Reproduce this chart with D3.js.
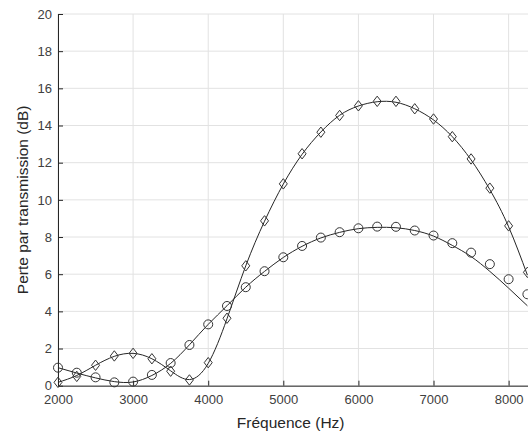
<!DOCTYPE html>
<html>
<head>
<meta charset="utf-8">
<script src="https://cdn.jsdelivr.net/npm/d3@7"></script>
<style>
  body { margin: 0; background: #fff; }
  svg { display: block; font-family: "Liberation Sans", Arial, sans-serif; }
</style>
</head>
<body>
<div class="chart"></div>
<script>
var svgWidth = 528;
var svgHeight = 433;

var margin = { top: 14, right: 0, bottom: 47, left: 58 };

// measured points (markers), every 250 Hz
var freqs = [2000, 2250, 2500, 2750, 3000, 3250, 3500, 3750, 4000, 4250, 4500, 4750, 5000,
  5250, 5500, 5750, 6000, 6250, 6500, 6750, 7000, 7250, 7500, 7750, 8000, 8250];
var diamondVals = [0.18, 0.5, 1.1, 1.6, 1.74, 1.45, 0.78, 0.31, 1.24, 3.63, 6.45, 8.87, 10.86,
  12.48, 13.64, 14.54, 15.06, 15.3, 15.3, 14.9, 14.35, 13.4, 12.2, 10.63, 8.6, 6.1];
var circleVals = [0.97, 0.7, 0.45, 0.18, 0.22, 0.58, 1.22, 2.19, 3.3, 4.29, 5.3, 6.16, 6.91,
  7.52, 7.97, 8.26, 8.47, 8.56, 8.55, 8.35, 8.08, 7.67, 7.16, 6.54, 5.73, 4.92];

// fitted curves (solid lines)
var diamondFit = [0.18, 0.55, 1.1, 1.58, 1.74, 1.45, 0.8, 0.33, 1.2, 3.6, 6.45, 8.85, 10.85,
  12.45, 13.65, 14.55, 15.05, 15.28, 15.25, 14.9, 14.3, 13.4, 12.15, 10.55, 8.55, 5.95];
var circleFit = [0.97, 0.68, 0.42, 0.22, 0.2, 0.55, 1.2, 2.2, 3.3, 4.3, 5.3, 6.15, 6.9,
  7.5, 7.95, 8.25, 8.45, 8.52, 8.5, 8.35, 8.05, 7.55, 6.95, 6.15, 5.25, 4.3];

var xTicks = [2000, 3000, 4000, 5000, 6000, 7000, 8000];
var yTicks = [0, 2, 4, 6, 8, 10, 12, 14, 16, 18, 20];

var width = 469.4;
var height = svgHeight - margin.top - margin.bottom - 0.3;

var svg = d3.select(".chart")
  .append("svg")
  .attr("width", svgWidth)
  .attr("height", svgHeight);

var chartGroup = svg.append("g")
  .attr("transform", `translate(${margin.left}, ${margin.top})`);

var xScale = d3.scaleLinear().domain([2000, 8250]).range([0, width]);
var yScale = d3.scaleLinear().domain([0, 20]).range([height, 0]);

// grid
chartGroup.append("g")
  .selectAll("line")
  .data(xTicks)
  .enter()
  .append("line")
  .attr("x1", d => xScale(d)).attr("x2", d => xScale(d))
  .attr("y1", 0).attr("y2", height)
  .attr("stroke", "#e2e2e2").attr("stroke-width", 1);

chartGroup.append("g")
  .selectAll("line")
  .data(yTicks)
  .enter()
  .append("line")
  .attr("x1", 0).attr("x2", svgWidth)
  .attr("y1", d => yScale(d)).attr("y2", d => yScale(d))
  .attr("stroke", "#e2e2e2").attr("stroke-width", 1);

// axes, ticks pointing inside like matlab
var bottomAxis = d3.axisBottom(xScale).tickValues(xTicks).tickFormat(d3.format("d"))
  .tickSize(-5).tickPadding(9).tickSizeOuter(0);
var leftAxis = d3.axisLeft(yScale).tickValues(yTicks).tickFormat(d3.format("d"))
  .tickSize(-5).tickPadding(6).tickSizeOuter(0);

var xAxis = chartGroup.append("g")
  .attr("transform", `translate(0, ${height})`)
  .call(bottomAxis);
xAxis.select(".domain").attr("d", `M0.5,0.5H${svgWidth}`);

var yAxis = chartGroup.append("g").call(leftAxis);

[xAxis, yAxis].forEach(function(ax) {
  ax.select(".domain").attr("stroke", "#262626");
  ax.selectAll(".tick line").attr("stroke", "#262626");
  ax.selectAll(".tick text")
    .attr("fill", "#404040")
    .style("font-size", "13px")
    .style("font-family", "Liberation Sans, Arial, sans-serif");
});

// fitted curves
var line = d3.line()
  .x((d, i) => xScale(freqs[i]))
  .y(d => yScale(d))
  .curve(d3.curveNatural);

chartGroup.append("path")
  .datum(diamondFit)
  .attr("d", line)
  .attr("fill", "none")
  .attr("stroke", "#262626")
  .attr("stroke-width", 1);

chartGroup.append("path")
  .datum(circleFit)
  .attr("d", line)
  .attr("fill", "none")
  .attr("stroke", "#262626")
  .attr("stroke-width", 1);

// markers
chartGroup.append("g")
  .selectAll("path")
  .data(diamondVals)
  .enter()
  .append("path")
  .attr("transform", (d, i) => `translate(${xScale(freqs[i])}, ${yScale(d)})`)
  .attr("d", "M0,-5.2L4,0L0,5.2L-4,0Z")
  .attr("fill", "none")
  .attr("stroke", "#333")
  .attr("stroke-width", 1);

chartGroup.append("g")
  .selectAll("circle")
  .data(circleVals)
  .enter()
  .append("circle")
  .attr("cx", (d, i) => xScale(freqs[i]))
  .attr("cy", d => yScale(d))
  .attr("r", 4.5)
  .attr("fill", "none")
  .attr("stroke", "#333")
  .attr("stroke-width", 1);

// labels
svg.append("text")
  .attr("transform", "rotate(-90)")
  .attr("x", -(margin.top + height / 2))
  .attr("y", 28)
  .attr("text-anchor", "middle")
  .attr("fill", "#262626")
  .style("font-size", "15.5px")
  .text("Perte par transmission (dB)");

svg.append("text")
  .attr("x", margin.left + width / 2 - 2)
  .attr("y", 428)
  .attr("text-anchor", "middle")
  .attr("fill", "#262626")
  .style("font-size", "15.5px")
  .text("Fréquence (Hz)");
</script>
</body>
</html>
